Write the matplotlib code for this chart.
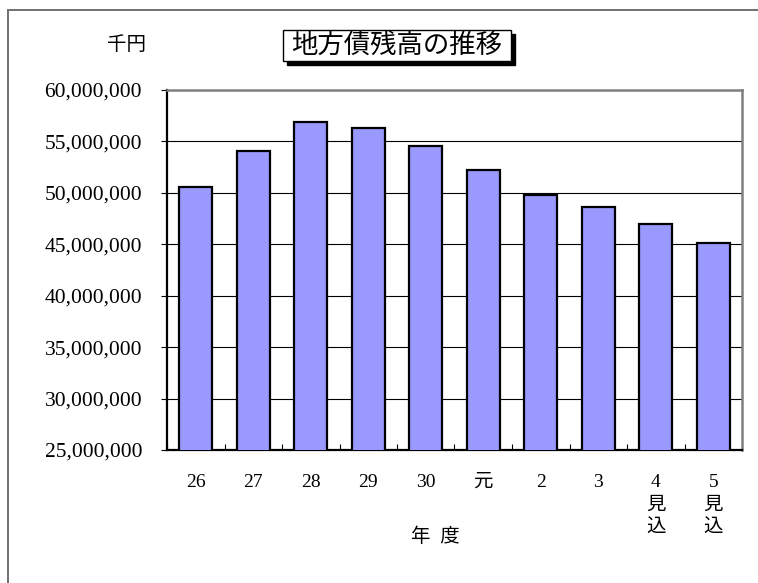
import matplotlib.pyplot as plt
from matplotlib.patches import Rectangle
from matplotlib.ticker import FuncFormatter, MultipleLocator

plt.rcParams['font.family'] = ['Liberation Serif', 'Noto Sans CJK JP', 'DejaVu Sans']

# 年度ごとの地方債残高 (千円)
years = ['26', '27', '28', '29', '30', '元', '2', '3', '4\n見\n込', '5\n見\n込']
balance = [50550000, 54100000, 56900000, 56300000, 54600000,
           52200000, 49800000, 48650000, 46950000, 45150000]

W, H = 758, 583
fig = plt.figure(figsize=(W / 100, H / 100), dpi=100)
ax = fig.add_axes([167 / W, 1 - 450 / H, 575 / W, 360 / H])

x = range(len(years))
ax.bar(x, balance, width=0.57, color='#9999FF', edgecolor='black', linewidth=1.6, zorder=3)

ax.set_xlim(-0.5, len(years) - 0.5)
ax.set_ylim(25000000, 60000000)
ax.yaxis.set_major_locator(MultipleLocator(5000000))
ax.yaxis.set_major_formatter(FuncFormatter(lambda v, p: f'{int(v):,}'))
ax.grid(axis='y', color='black', linewidth=0.8, zorder=1)

ax.set_xticks(list(x))
ax.set_xticklabels(years, fontsize=14, linespacing=1.45, va='top')
ax.xaxis.set_minor_locator(MultipleLocator(1, offset=0.5))
ax.tick_params(axis='x', which='major', length=0, pad=17)
ax.tick_params(axis='x', which='minor', direction='in', length=4, width=0.8)
ax.tick_params(axis='y', direction='out', length=4, width=0.8, pad=14, labelsize=15.5)

for s in ('left', 'bottom'):
    ax.spines[s].set_linewidth(1.6)
    ax.spines[s].set_color('black')
for s in ('top', 'right'):
    ax.spines[s].set_linewidth(1.8)
    ax.spines[s].set_color('#808080')

# axis title and unit label
fig.text(435 / W, 1 - 537 / H, '年  度', fontsize=14, ha='center', va='center')
fig.text(126 / W, 1 - 45 / H, '千円', fontsize=14, ha='center', va='center')

# outer chart frame
fig.add_artist(Rectangle((8 / W, -0.1), 1.2, 1 - 10 / H + 0.1, transform=fig.transFigure,
                         fill=False, edgecolor='#707070', linewidth=1.4, clip_on=False))

# title box with drop shadow
bx, by, bw, bh = 283, 30, 228, 31
fig.add_artist(Rectangle(((bx + 4) / W, 1 - (by + bh + 4) / H), bw / W, bh / H,
                         transform=fig.transFigure, facecolor='black', edgecolor='black'))
fig.add_artist(Rectangle((bx / W, 1 - (by + bh) / H), bw / W, bh / H,
                         transform=fig.transFigure, facecolor='white', edgecolor='black',
                         linewidth=1.0))
fig.text((bx + bw / 2) / W, 1 - (by + bh / 2) / H, '地方債残高の推移', fontsize=19,
         ha='center', va='center')

fig.savefig('out.png', dpi=100)
